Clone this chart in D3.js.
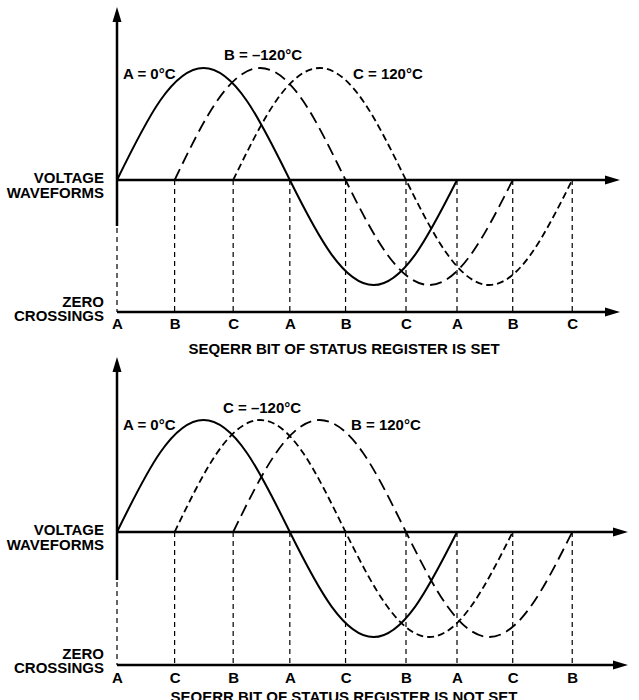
<!DOCTYPE html>
<html>
<head>
<meta charset="utf-8">
<script src="https://cdn.jsdelivr.net/npm/d3@7"></script>
<style>
  body { margin: 0; background: #fff; }
  svg text { font-family: "Liberation Sans", Arial, Helvetica, sans-serif; font-weight: bold; font-size: 15px; fill: #000; }
</style>
</head>
<body>
<svg id="chart" width="639" height="700"></svg>
<script>
// ---------------- DATA ----------------
// Zero-crossing phases (degrees of the drawing) of each wave: rising start, falling middle, rising end
const topWaveA = [0, 183, 360];
const topWaveB = [61, 242, 419];
const topWaveC = [123, 306, 482];
const botWaveA = [0, 183, 360];
const botWaveC = [61, 242, 419];
const botWaveB = [123, 306, 482];

const halfFraction = [0, 0.25, 0.5, 0.75, 1];
const positiveHalf = [0, 0.71, 1, 0.71, 0];
const negativeHalf = [0, -0.71, -1, -0.71, 0];

const topWaveLabels = ["A = 0°C", "B = –120°C", "C = 120°C"];
const botWaveLabels = ["A = 0°C", "C = –120°C", "B = 120°C"];
const axisLabels1 = ["VOLTAGE", "WAVEFORMS"];
const axisLabels2 = ["ZERO", "CROSSINGS"];
const topTitle = "SEQERR BIT OF STATUS REGISTER IS SET";
const botTitle = "SEQERR BIT OF STATUS REGISTER IS NOT SET";

// ---------------- LAYOUT ----------------
const svg = d3.select("#chart");
const x = d3.scaleLinear().domain([0, 360]).range([117, 457]);
const dashFor = { A: null, B: "12,6", C: "7,4" };

const panels = [
  {
    waves: [["A", topWaveA, topWaveLabels[0]], ["B", topWaveB, topWaveLabels[1]], ["C", topWaveC, topWaveLabels[2]]],
    y: d3.scaleLinear().domain([-1, 0, 1]).range([285, 180, 68]),
    zeroY: 180, crossY: 312, axisTop: 7, axisBottom: 226, arrowX: 620, tickPad: 6,
    labelPos: [[123, 79], [224, 60], [353, 79]],
    leftY1: [183, 198], leftY2: [307, 321],
    title: topTitle, titleY: 354
  },
  {
    waves: [["A", botWaveA, botWaveLabels[0]], ["C", botWaveC, botWaveLabels[1]], ["B", botWaveB, botWaveLabels[2]]],
    y: d3.scaleLinear().domain([-1, 0, 1]).range([637, 532, 420]),
    zeroY: 532, crossY: 665, axisTop: 357, axisBottom: 580, arrowX: 628, tickPad: 7,
    labelPos: [[123, 430], [223, 413], [351, 430]],
    leftY1: [535, 550], leftY2: [659, 673],
    title: botTitle, titleY: 702
  }
];

const line = d3.line().x(d => x(d[0])).curve(d3.curveNatural);

function arrowRight(tipX, yy) {
  return `M${tipX},${yy} L${tipX - 15},${yy - 4.5} L${tipX - 15},${yy + 4.5} Z`;
}
function arrowUp(xx, tipY) {
  return `M${xx},${tipY} L${xx - 4.5},${tipY + 15} L${xx + 4.5},${tipY + 15} Z`;
}

panels.forEach(p => {
  const g = svg.append("g");

  const crossings = [];
  p.waves.forEach(([letter, ph]) => ph.forEach(d => crossings.push({ deg: d, letter })));
  crossings.sort((a, b) => a.deg - b.deg);

  // vertical dashed guides
  g.selectAll("line.guide").data(crossings).join("line")
    .attr("class", "guide")
    .attr("x1", d => x(d.deg)).attr("x2", d => x(d.deg))
    .attr("y1", d => d.deg === 0 ? p.axisBottom + 2 : p.zeroY)
    .attr("y2", p.crossY)
    .attr("stroke", "#000").attr("stroke-width", 1.2)
    .attr("stroke-dasharray", "5,4");

  // voltage axis + y axis
  g.append("line").attr("x1", x(0)).attr("x2", p.arrowX - 10)
    .attr("y1", p.zeroY).attr("y2", p.zeroY)
    .attr("stroke", "#000").attr("stroke-width", 2.5);
  g.append("path").attr("d", arrowRight(p.arrowX, p.zeroY)).attr("fill", "#000");
  g.append("line").attr("x1", x(0)).attr("x2", x(0))
    .attr("y1", p.axisBottom).attr("y2", p.axisTop + 10)
    .attr("stroke", "#000").attr("stroke-width", 2.5);
  g.append("path").attr("d", arrowUp(x(0), p.axisTop)).attr("fill", "#000");

  // zero crossings axis
  g.append("line").attr("x1", x(0)).attr("x2", p.arrowX - 10)
    .attr("y1", p.crossY).attr("y2", p.crossY)
    .attr("stroke", "#000").attr("stroke-width", 2.5);
  g.append("path").attr("d", arrowRight(p.arrowX, p.crossY)).attr("fill", "#000");

  const axis = d3.axisBottom(x)
    .tickValues(crossings.map(d => d.deg))
    .tickFormat((d, i) => crossings[i].letter)
    .tickSize(0).tickPadding(p.tickPad);
  const ag = g.append("g").attr("transform", `translate(0,${p.crossY})`).call(axis);
  ag.select(".domain").remove();

  // waves
  p.waves.forEach(([letter, ph]) => {
    const pts = [];
    halfFraction.forEach((f, i) => pts.push([ph[0] + f * (ph[1] - ph[0]), positiveHalf[i]]));
    halfFraction.forEach((f, i) => { if (i > 0) pts.push([ph[1] + f * (ph[2] - ph[1]), negativeHalf[i]]); });
    g.append("path")
      .attr("d", line.y(d => p.y(d[1]))(pts))
      .attr("fill", "none").attr("stroke", "#000")
      .attr("stroke-width", letter === "A" ? 2 : 1.8)
      .attr("stroke-dasharray", dashFor[letter]);
  });

  // wave labels
  p.waves.forEach(([letter, ph, lbl], i) => {
    g.append("text").attr("x", p.labelPos[i][0]).attr("y", p.labelPos[i][1]).text(lbl);
  });

  // left labels
  axisLabels1.forEach((t, i) => g.append("text").attr("x", 104).attr("y", p.leftY1[i]).attr("text-anchor", "end").text(t));
  axisLabels2.forEach((t, i) => g.append("text").attr("x", 104).attr("y", p.leftY2[i]).attr("text-anchor", "end").text(t));

  // title
  g.append("text").attr("x", 344).attr("y", p.titleY).attr("text-anchor", "middle").text(p.title);
});
</script>
</body>
</html>
